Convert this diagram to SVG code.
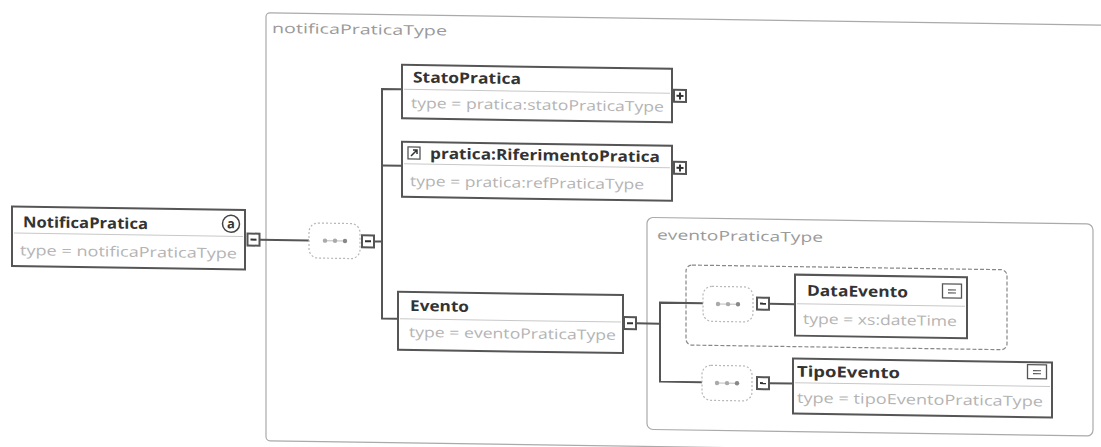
<svg xmlns="http://www.w3.org/2000/svg" width="1101" height="447" viewBox="0 0 1101 447">
  <style>
    text { font-family: "Open Sans", "DejaVu Sans", sans-serif; }
    .title { font-size: 15px; font-weight: bold; fill: #333; }
    .type { font-size: 14px; fill: #b4b4b4; }
    .tlabel { font-size: 13.5px; fill: #9a9a9a; }
    .box { fill: #fff; stroke: #555; stroke-width: 2; }
    .div { stroke: #c8c8c8; stroke-width: 1; }
    .typebox { fill: none; stroke: #aaa; stroke-width: 1.2; }
    .group { fill: none; stroke: #888; stroke-width: 1.2; stroke-dasharray: 4 2; }
    .seq { fill: #fff; stroke: #b8b8b8; stroke-width: 1.2; stroke-dasharray: 2 2; }
    .dot { fill: #aaa; }
    .conn { fill: none; stroke: #555; stroke-width: 2; }
    .btn { fill: #fff; stroke: #555; stroke-width: 2; }
    .sign { stroke: #333; stroke-width: 2; }
    .icon { fill: #fff; stroke: #555; stroke-width: 1.3; }
  </style>
  <defs>
    <!-- compositor sequence glyph -->
    <g id="seqdots">
      <line x1="-10" y1="0" x2="10" y2="0" stroke="#bbb" stroke-width="1"/>
      <circle cx="-10" cy="0" r="2.2" class="dot"/>
      <circle cx="0" cy="0" r="2.2" class="dot"/>
      <circle cx="10" cy="0" r="2.2" fill="#888"/>
    </g>
    <g id="minus">
      <rect x="-6" y="-6" width="12" height="12" class="btn"/>
      <line x1="-3" y1="0" x2="3" y2="0" class="sign"/>
    </g>
    <g id="plus">
      <rect x="-6" y="-6" width="12" height="12" class="btn"/>
      <line x1="-3.5" y1="0" x2="3.5" y2="0" class="sign"/>
      <line x1="0" y1="-3.5" x2="0" y2="3.5" class="sign"/>
    </g>
    <g id="simple">
      <rect x="-9.5" y="-7" width="19" height="14" class="icon"/>
      <line x1="-4" y1="-1" x2="4" y2="-1" stroke="#555" stroke-width="1.2"/>
      <line x1="-4" y1="2" x2="4" y2="2" stroke="#555" stroke-width="1.2"/>
    </g>
  </defs>

  <rect width="1101" height="447" fill="#fff"/>

  <g transform="matrix(1 0.0148 0 1 0 -8.14)">
    <!-- complex type containers -->
    <g id="notificaPraticaType">
      <rect x="266" y="17" width="845" height="428" rx="4" class="typebox"/>
      <text x="272" y="37" class="tlabel" textLength="175" lengthAdjust="spacingAndGlyphs">notificaPraticaType</text>
    </g>
    <g id="eventoPraticaType">
      <rect x="647" y="216" width="446" height="212" rx="6" class="typebox"/>
      <text x="657" y="238" class="tlabel" textLength="166" lengthAdjust="spacingAndGlyphs">eventoPraticaType</text>
    </g>
    <g id="dataEventoGroup">
      <rect x="686" y="263" width="321" height="80" rx="6" class="group"/>
    </g>

    <!-- connectors -->
    <g id="connectors">
      <line x1="260" y1="244" x2="309" y2="244" class="conn"/>
      <polyline points="374,244 382,244" class="conn"/>
      <polyline points="401,91.5 382,91.5 382,321 398,321" class="conn"/>
      <line x1="382" y1="168" x2="402" y2="168" class="conn"/>
      <polyline points="636,322 660,322" class="conn"/>
      <polyline points="703,301 660,301 660,380 702,380" class="conn"/>
      <line x1="769" y1="300.5" x2="795" y2="300.5" class="conn"/>
      <line x1="769" y1="380" x2="793" y2="380" class="conn"/>
    </g>

    <!-- root element -->
    <g id="NotificaPratica">
      <rect x="12" y="214.5" width="233" height="59.5" class="box"/>
      <line x1="14" y1="241" x2="243" y2="241" class="div"/>
      <text x="23" y="235" class="title" textLength="125" lengthAdjust="spacingAndGlyphs">NotificaPratica</text>
      <circle cx="231" cy="228.5" r="8.5" fill="#fff" stroke="#444" stroke-width="1.5"/>
      <text x="231" y="233" text-anchor="middle" font-size="13" font-weight="bold" fill="#333">a</text>
      <text x="20" y="263" class="type" textLength="217" lengthAdjust="spacingAndGlyphs">type = notificaPraticaType</text>
      <use href="#minus" x="253.5" y="244"/>
    </g>

    <g id="seq1">
      <rect x="309" y="226.5" width="51" height="35" rx="9" class="seq"/>
      <use href="#seqdots" x="335" y="244"/>
      <use href="#minus" x="368" y="244"/>
    </g>

    <g id="StatoPratica">
      <rect x="402" y="67" width="270" height="53.5" class="box"/>
      <line x1="404" y1="91.5" x2="670" y2="91.5" class="div"/>
      <text x="413" y="84.5" class="title" textLength="108" lengthAdjust="spacingAndGlyphs">StatoPratica</text>
      <text x="411" y="110" class="type" textLength="253" lengthAdjust="spacingAndGlyphs">type = pratica:statoPraticaType</text>
      <use href="#plus" x="680" y="94"/>
    </g>

    <g id="RiferimentoPratica">
      <rect x="402" y="144" width="270" height="55" class="box"/>
      <line x1="404" y1="166" x2="670" y2="166" class="div"/>
      <rect x="408" y="149" width="12" height="12" class="icon"/>
      <path d="M411 158 L417 152 M413 152 L417 152 L417 156" fill="none" stroke="#333" stroke-width="1.5"/>
      <text x="430" y="160.5" class="title" textLength="230" lengthAdjust="spacingAndGlyphs">pratica:RiferimentoPratica</text>
      <text x="410" y="188" class="type" textLength="234" lengthAdjust="spacingAndGlyphs">type = pratica:refPraticaType</text>
      <use href="#plus" x="680" y="166"/>
    </g>

    <g id="Evento">
      <rect x="398" y="294" width="225" height="58" class="box"/>
      <line x1="400" y1="321" x2="621" y2="321" class="div"/>
      <text x="410" y="313" class="title" textLength="59" lengthAdjust="spacingAndGlyphs">Evento</text>
      <text x="409" y="339" class="type" textLength="207" lengthAdjust="spacingAndGlyphs">type = eventoPraticaType</text>
      <use href="#minus" x="630" y="322"/>
    </g>

    <g id="seq2">
      <rect x="703" y="284" width="50" height="35" rx="9" class="seq"/>
      <use href="#seqdots" x="728" y="301.5"/>
      <use href="#minus" x="763" y="300.5"/>
    </g>

    <g id="DataEvento">
      <rect x="795" y="271" width="172" height="61" class="box"/>
      <line x1="797" y1="300" x2="965" y2="300" class="div"/>
      <text x="807" y="292" class="title" textLength="101" lengthAdjust="spacingAndGlyphs">DataEvento</text>
      <use href="#simple" x="952" y="285"/>
      <text x="803" y="320" class="type" textLength="154" lengthAdjust="spacingAndGlyphs">type = xs:dateTime</text>
    </g>

    <g id="seq3">
      <rect x="702" y="363" width="50" height="35" rx="9" class="seq"/>
      <use href="#seqdots" x="727" y="380.5"/>
      <use href="#minus" x="763" y="380"/>
    </g>

    <g id="TipoEvento">
      <rect x="793" y="355" width="259" height="55" class="box"/>
      <line x1="795" y1="379" x2="1050" y2="379" class="div"/>
      <text x="797" y="373" class="title" textLength="103" lengthAdjust="spacingAndGlyphs">TipoEvento</text>
      <use href="#simple" x="1037" y="364.5"/>
      <text x="797" y="399" class="type" textLength="246" lengthAdjust="spacingAndGlyphs">type = tipoEventoPraticaType</text>
    </g>
  </g>
</svg>
